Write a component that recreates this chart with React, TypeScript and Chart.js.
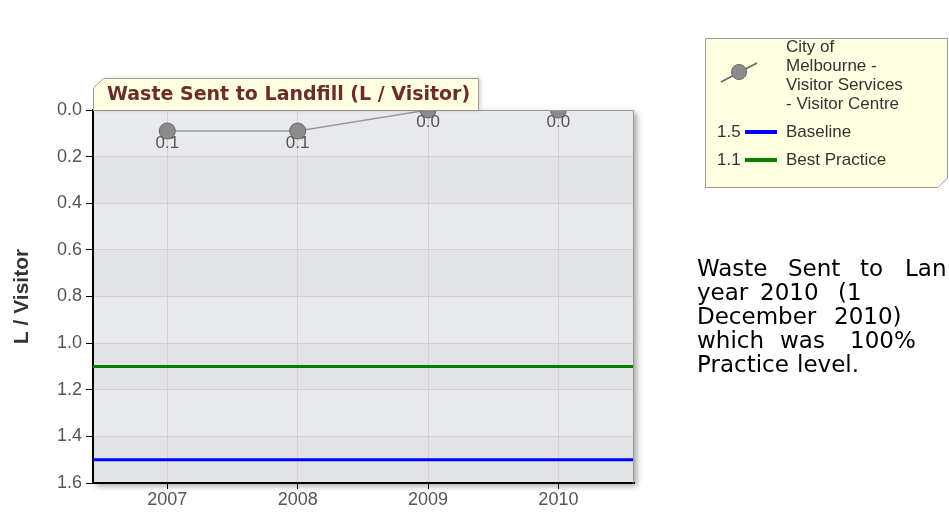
import React, { useEffect, useRef } from "react";
import { Chart, registerables } from "chart.js";

Chart.register(...registerables);

// ---------- data ----------
const years = [2007, 2008, 2009, 2010];
const wasteValues = [0.09, 0.09, 0.0, 0.0];
const baselineValue = 1.5;
const bestPracticeValue = 1.1;
const yTickValues = [0, 0.2, 0.4, 0.6, 0.8, 1.0, 1.2, 1.4, 1.6];
const xRange = [2006.43, 2010.58];
const chartTitle = "Waste Sent to Landfill (L / Visitor)";
const yAxisTitle = "L / Visitor";
const seriesNameLines = ["City of", "Melbourne -", "Visitor Services", "- Visitor Centre"];
const refValueLabels = ["1.5", "1.1"];
const refNames = ["Baseline", "Best Practice"];
const refColors = ["#0000ff", "#008000"];
const paragraphLines: string[][] = [
  ["Waste", "Sent", "to", "Lan"],
  ["year", "2010", "(1"],
  ["December", "2010)"],
  ["which", "was", "100%"],
  ["Practice", "level."],
];
const paragraphWordLefts: number[][] = [
  [697, 788, 860, 905],
  [697, 760, 838],
  [697, 834],
  [697, 780, 850],
  [697, 797],
];

const SANS = "'Liberation Sans', Arial, sans-serif";

const decorPlugin = {
  id: "decor",
  beforeDraw(chart: any) {
    const { ctx, chartArea: a, scales } = chart;
    const y = scales.y;
    ctx.save();
    ctx.shadowColor = "rgba(0,0,0,0.35)";
    ctx.shadowBlur = 6;
    ctx.shadowOffsetX = 3;
    ctx.shadowOffsetY = 3;
    ctx.fillStyle = "#e4e5e8";
    ctx.fillRect(a.left, a.top, a.right - a.left, a.bottom - a.top);
    ctx.restore();
    for (let i = 0; i < yTickValues.length - 1; i++) {
      const y0 = y.getPixelForValue(yTickValues[i]);
      const y1 = y.getPixelForValue(yTickValues[i + 1]);
      ctx.fillStyle = i % 2 === 0 ? "#e7e9ed" : "#e2e3e6";
      ctx.fillRect(a.left, y0, a.right - a.left, y1 - y0);
    }
  },
  afterDatasetsDraw(chart: any) {
    const { ctx } = chart;
    const meta = chart.getDatasetMeta(0);
    ctx.save();
    ctx.fillStyle = "#555";
    ctx.font = `17px ${SANS}`;
    ctx.textAlign = "center";
    ctx.textBaseline = "top";
    meta.data.forEach((pt: any, i: number) => {
      ctx.fillText(wasteValues[i].toFixed(1), pt.x, pt.y + 4);
    });
    ctx.restore();
  },
  afterDraw(chart: any) {
    const { ctx, chartArea: a } = chart;
    ctx.save();
    // top/right border
    ctx.strokeStyle = "#999";
    ctx.lineWidth = 1;
    ctx.beginPath();
    ctx.moveTo(a.left, a.top + 0.5);
    ctx.lineTo(a.right - 0.5, a.top + 0.5);
    ctx.lineTo(a.right - 0.5, a.bottom);
    ctx.stroke();

    // title tab
    const tl = a.left, tr = 478, tt = 78, tb = a.top;
    const tabPath = () => {
      ctx.beginPath();
      ctx.moveTo(tl + 0.5, tb);
      ctx.lineTo(tl + 0.5, tt + 10);
      ctx.lineTo(tl + 10.5, tt + 0.5);
      ctx.lineTo(tr + 0.5, tt + 0.5);
      ctx.lineTo(tr + 0.5, tb);
    };
    ctx.save();
    ctx.shadowColor = "rgba(0,0,0,0.18)";
    ctx.shadowBlur = 4;
    ctx.shadowOffsetX = 2;
    tabPath();
    ctx.closePath();
    ctx.fillStyle = "#ffffe1";
    ctx.fill();
    ctx.restore();
    ctx.strokeStyle = "#9a9a9a";
    ctx.lineWidth = 1;
    tabPath();
    ctx.stroke();
    ctx.fillStyle = "#6b2c2c";
    ctx.font = `bold 19px 'DejaVu Sans', Verdana, sans-serif`;
    ctx.textAlign = "left";
    ctx.textBaseline = "middle";
    ctx.fillText(chartTitle, tl + 14, (tt + tb) / 2 + 1);

    // legend box
    const lx = 705, ly = 38, lr = 947, lb = 187;
    ctx.beginPath();
    ctx.moveTo(lx + 0.5, ly + 0.5);
    ctx.lineTo(lr + 0.5, ly + 0.5);
    ctx.lineTo(lr + 0.5, lb - 9);
    ctx.lineTo(lr - 9, lb + 0.5);
    ctx.lineTo(lx + 0.5, lb + 0.5);
    ctx.closePath();
    ctx.fillStyle = "#ffffe1";
    ctx.fill();
    ctx.strokeStyle = "#9a9a9a";
    ctx.stroke();

    // series marker icon
    ctx.strokeStyle = "#666";
    ctx.lineWidth = 1.5;
    ctx.beginPath();
    ctx.moveTo(721, 82);
    ctx.lineTo(757, 63);
    ctx.stroke();
    ctx.beginPath();
    ctx.arc(739, 72, 7.5, 0, Math.PI * 2);
    ctx.fillStyle = "#8c8c8c";
    ctx.fill();
    ctx.lineWidth = 1;
    ctx.strokeStyle = "#666";
    ctx.stroke();

    ctx.fillStyle = "#333";
    ctx.font = `17px ${SANS}`;
    ctx.textBaseline = "middle";
    seriesNameLines.forEach((t, i) => ctx.fillText(t, 786, 47 + i * 19));
    refNames.forEach((t, i) => {
      const yy = 132 + i * 28;
      ctx.fillStyle = "#333";
      ctx.fillText(refValueLabels[i], 717, yy);
      ctx.fillText(t, 786, yy);
      ctx.strokeStyle = refColors[i];
      ctx.lineWidth = 4;
      ctx.beginPath();
      ctx.moveTo(745, yy);
      ctx.lineTo(777, yy);
      ctx.stroke();
    });
    ctx.restore();
  },
};

export default function App() {
  const ref = useRef<HTMLCanvasElement>(null);
  useEffect(() => {
    const canvas = ref.current!;
    const chart = new Chart(canvas, {
      type: "line",
      data: {
        datasets: [
          {
            label: seriesNameLines.join(" "),
            data: years.map((yr, i) => ({ x: yr, y: wasteValues[i] })),
            borderColor: "#999",
            borderWidth: 1.5,
            pointRadius: 8,
            pointBackgroundColor: "#8c8c8c",
            pointBorderColor: "#666",
            pointBorderWidth: 1,
            clip: 0,
          },
          {
            label: refNames[0],
            data: xRange.map((x) => ({ x, y: baselineValue })),
            borderColor: refColors[0],
            borderWidth: 3,
            pointRadius: 0,
          },
          {
            label: refNames[1],
            data: xRange.map((x) => ({ x, y: bestPracticeValue })),
            borderColor: refColors[1],
            borderWidth: 3,
            pointRadius: 0,
          },
        ],
      },
      options: {
        animation: false,
        responsive: false,
        devicePixelRatio: 1,
        layout: { padding: { left: 0, right: 315, top: 110, bottom: 0 } },
        plugins: { legend: { display: false }, tooltip: { enabled: false } },
        scales: {
          x: {
            type: "linear",
            min: xRange[0],
            max: xRange[1],
            afterBuildTicks: (s: any) => {
              s.ticks = years.map((v) => ({ value: v }));
            },
            afterFit: (s: any) => {
              s.height = 37;
            },
            ticks: {
              color: "#555",
              font: { size: 18, family: SANS },
              padding: 0,
              callback: (v: any) => String(v),
            },
            grid: { color: "#d2d2d2", tickColor: "#000", tickLength: 6 },
            border: { display: true, color: "#000", width: 2 },
          },
          y: {
            type: "linear",
            reverse: true,
            min: 0,
            max: 1.6,
            afterBuildTicks: (s: any) => {
              s.ticks = yTickValues.map((v) => ({ value: v }));
            },
            afterFit: (s: any) => {
              s.width = 93;
            },
            ticks: {
              color: "#555",
              font: { size: 18, family: SANS },
              padding: 4,
              callback: (v: any) => Number(v).toFixed(1),
            },
            grid: { color: "#d2d2d2", tickColor: "#000", tickLength: 7 },
            border: { display: true, color: "#000", width: 2 },
            title: {
              display: true,
              text: yAxisTitle,
              color: "#333",
              font: { size: 21, weight: "bold", family: SANS },
              padding: { top: 10, bottom: 0 },
            },
          },
        },
      },
      plugins: [decorPlugin],
    } as any);
    return () => chart.destroy();
  }, []);

  return (
    <div
      style={{
        position: "fixed",
        left: 0,
        top: 0,
        width: 949,
        height: 520,
        overflow: "hidden",
        background: "#fff",
      }}
    >
      <canvas
        ref={ref}
        width={949}
        height={520}
        style={{ position: "absolute", left: 0, top: 0, width: 949, height: 520 }}
      />
      {paragraphLines.map((words, li) =>
        words.map((w, wi) => (
          <span
            key={`${li}-${wi}`}
            style={{
              position: "absolute",
              left: paragraphWordLefts[li][wi],
              top: 256 + li * 24,
              fontFamily: "'DejaVu Sans', Verdana, sans-serif",
              fontSize: 23,
              lineHeight: "24px",
              color: "#000",
              whiteSpace: "pre",
            }}
          >
            {w}
          </span>
        ))
      )}
    </div>
  );
}
